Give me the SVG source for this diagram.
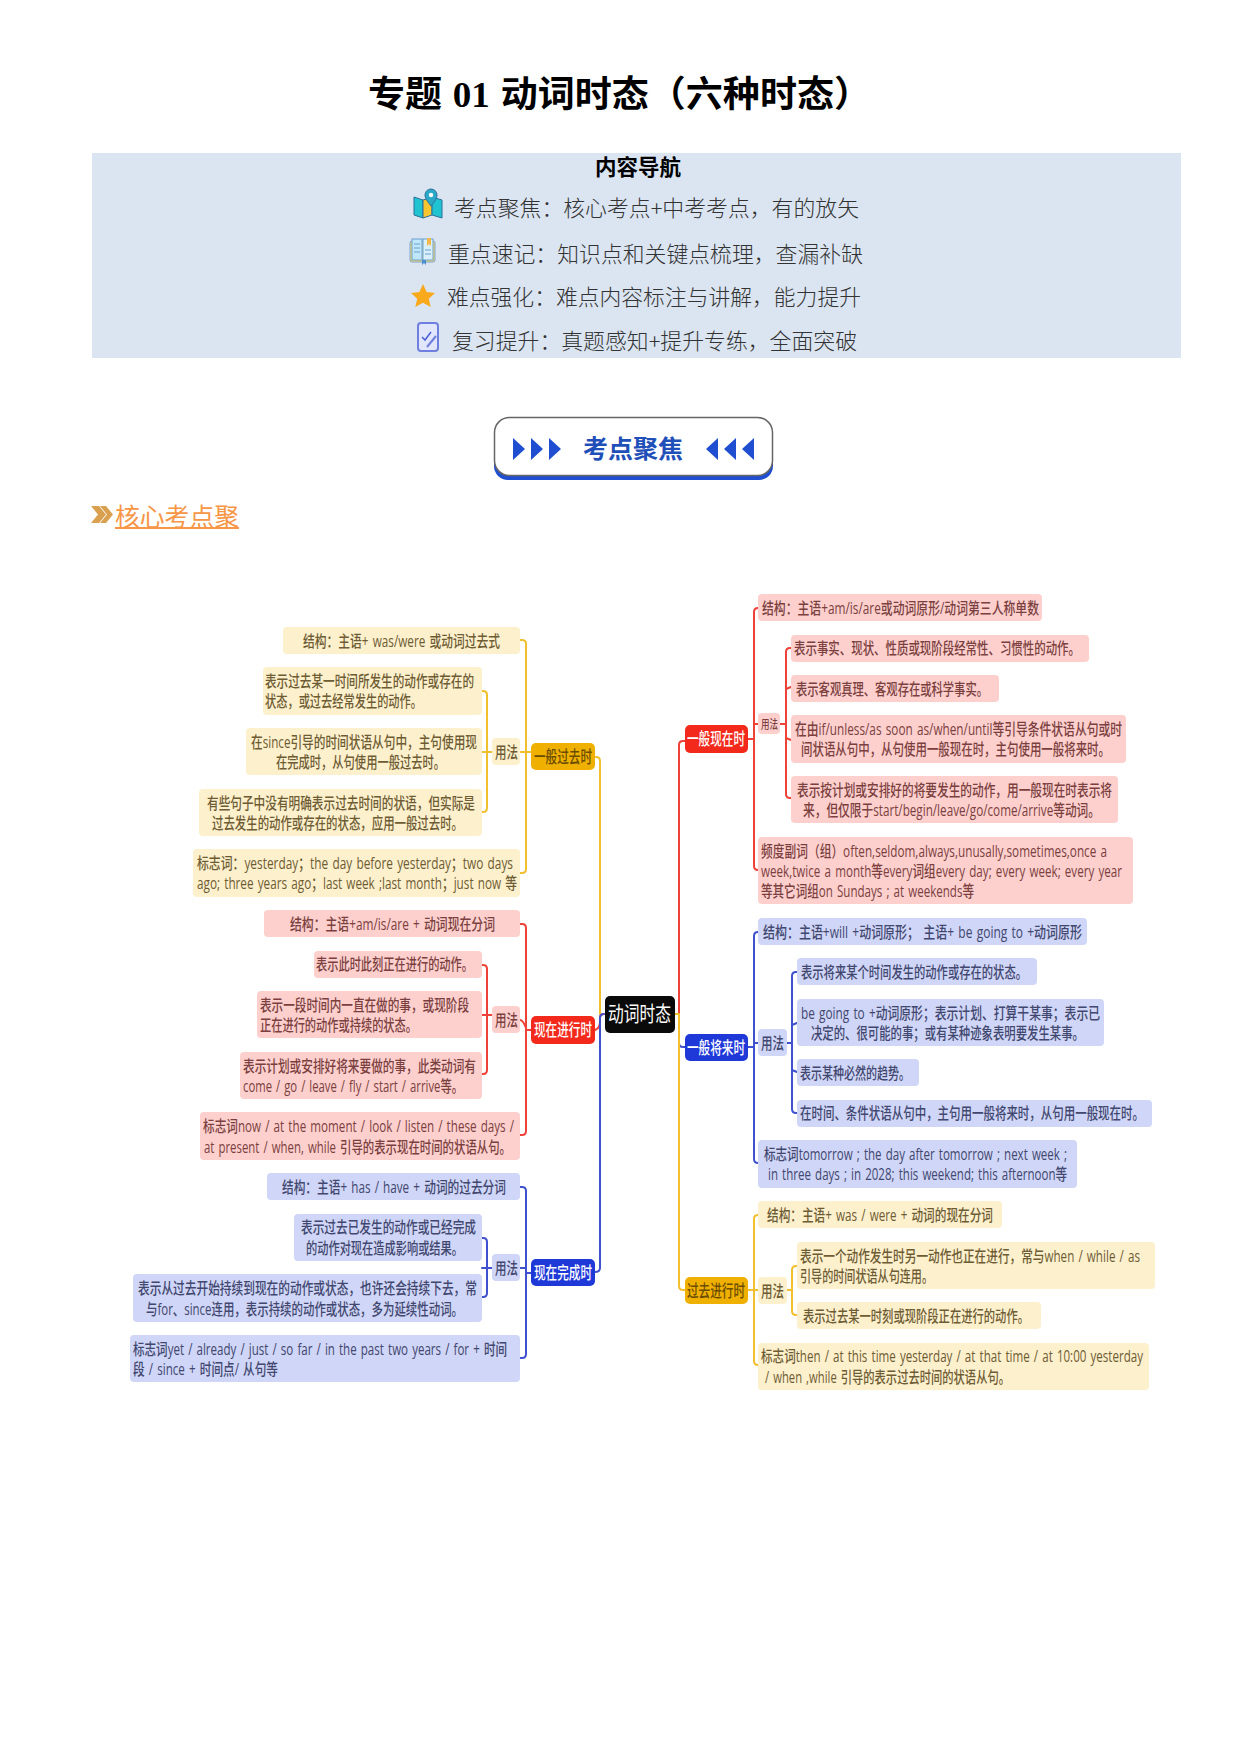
<svg xmlns="http://www.w3.org/2000/svg" width="1241" height="1754" viewBox="0 0 1241 1754">
<defs>
<style>
text{font-family:"Open Sans","Noto Sans CJK SC",sans-serif;font-size:15.5px;font-weight:500;word-spacing:1.5px}
.y rect{fill:#fdf0cd}.y text{fill:#6d5c33}
.r rect{fill:#fdd0ce}.r text{fill:#7b3f3e}
.b rect{fill:#d0d6f7}.b text{fill:#41476f}
.my rect{fill:#f0b000}.my text{fill:#6b4d00;font-size:16.5px}
.mr rect{fill:#f3291b}.mr text{fill:#fff;font-size:16.5px}
.mb rect{fill:#1f39d9}.mb text{fill:#fff;font-size:16.5px}
.c{fill:none;stroke-width:2;stroke-linecap:round}
.cy{stroke:#f2bf2e}.cr{stroke:#ee4238}.cb{stroke:#3f51cf}
.t{font-family:"Liberation Serif","Noto Sans CJK SC",serif;font-weight:700;font-size:36px;fill:#000}
.nav{font-family:"Noto Sans CJK SC",sans-serif;font-size:21.5px;font-weight:300;fill:#333}
</style>
</defs>
<rect width="1241" height="1754" fill="#fff"/>
<text class="t" x="368" y="107" textLength="503" lengthAdjust="spacingAndGlyphs">专题 01 动词时态（六种时态）</text>
<rect x="92" y="153" width="1089" height="205" fill="#dbe5f1"/>
<text class="nav" x="595" y="175" textLength="86" lengthAdjust="spacingAndGlyphs" style="fill:#000;font-weight:700">内容导航</text>
<text class="nav" x="454" y="216" textLength="405" lengthAdjust="spacingAndGlyphs">考点聚焦：核心考点+中考考点，有的放矢</text>
<text class="nav" x="448" y="262" textLength="415" lengthAdjust="spacingAndGlyphs">重点速记：知识点和关键点梳理，查漏补缺</text>
<text class="nav" x="447" y="305" textLength="414" lengthAdjust="spacingAndGlyphs">难点强化：难点内容标注与讲解，能力提升</text>
<text class="nav" x="452" y="349" textLength="405" lengthAdjust="spacingAndGlyphs">复习提升：真题感知+提升专练，全面突破</text>
<g id="icon-map">
<path d="M414 197l9 3v18l-9-3z" fill="#1fc4d0" stroke="#2b6f9a"/>
<path d="M423 200l9-3v18l-9 3z" fill="#f7c530" stroke="#2b6f9a"/>
<path d="M432 197l10 3v18l-10-3z" fill="#1fc4d0" stroke="#2b6f9a"/>
<path d="M431 206c-4-5-6-8-6-11a6 6 0 0 1 12 0c0 3-2 6-6 11z" fill="#2aa9c9" stroke="#2b6f9a"/>
<circle cx="431" cy="195" r="2.2" fill="#fff"/>
</g>
<g id="icon-book">
<rect x="410" y="241" width="25" height="21" rx="2" fill="#f6d66a" stroke="#7aa6d6"/>
<rect x="412" y="239" width="10" height="21" fill="#bfe6fa" stroke="#6aa0d0"/>
<rect x="423" y="239" width="10" height="21" fill="#d9f0fb" stroke="#6aa0d0"/>
<path d="M414 244h6M414 248h6M414 252h6M425 250h6M425 254h6" stroke="#6aa0d0" fill="none"/>
<path d="M427 238h4v8l-2-2-2 2z" fill="#f2b84a"/>
<path d="M422 260v5l2-2 2 2v-5z" fill="#4a90d0"/>
</g>
<g id="icon-star">
<path d="M423 284l3.6 8 8.400 1-6.200 5.700 1.900 8.300-7.700-4.300-7.700 4.300 1.900-8.300-6.200-5.700 8.400-1z" fill="#f8a91c"/>
</g>
<g id="icon-note">
<rect x="418" y="323" width="20" height="28" rx="3" fill="#e2e6fc" stroke="#6f7fe0" stroke-width="2"/>
<path d="M422 337l3 3 6-8" fill="none" stroke="#4a5fd8" stroke-width="1.500"/>
<path d="M427 347l9-11" fill="none" stroke="#6f7fe0" stroke-width="2"/>
</g>
<g id="banner">
<rect x="494" y="422" width="279" height="58" rx="14" fill="#1f4fd0"/>
<rect x="494.500" y="417.500" width="278" height="58" rx="15" fill="#fff" stroke="#666" stroke-width="1.500"/>
<path d="M513 438l12 11-12 11zM531 438l12 11-12 11zM549 438l12 11-12 11zM718 438l-12 11 12 11zM736 438l-12 11 12 11zM754 438l-12 11 12 11z" fill="#1f4fd0"/>
<text x="583" y="458" textLength="100" lengthAdjust="spacingAndGlyphs" style="font-family:'Noto Sans CJK SC',sans-serif;font-size:25px;font-weight:700;fill:#1f4fb8">考点聚焦</text>
</g>
<g id="section-head">
<path d="M91 506h8l7 8.500-7 8.500h-8l7-8.500zM100 506h6l7 8.500-7 8.500h-6l7-8.500z" fill="#d9a050"/>
<text x="115" y="526" textLength="124" lengthAdjust="spacingAndGlyphs" style="font-family:'Noto Sans CJK SC',sans-serif;font-size:25px;font-weight:400;fill:#f79646">核心考点聚</text>
<rect x="115" y="527" width="124" height="2" fill="#f79646"/>
</g>
<g id="connectors">
<path class="c cy" d="M520 640h2q4 0 4 4V869q0 4-4 4h-2M482 691h1q4 0 4 4V808q0 4-4 4h-1M482 752h10M520 752h11M595 757h1q4 0 4 4V1014"/>
<path class="c cr" d="M520 924h2q4 0 4 4V1131q0 4-4 4h-2M482 965h1q4 0 4 4V1070q0 4-4 4h-1M482 1015h10M520 1020q3 0 6 8M526 1030h5M595 1030q5-2 5-8v-4q0-4 4-4"/>
<path class="c cb" d="M520 1187h2q4 0 4 4V1354q0 4-4 4h-2M482 1238h1q4 0 4 4V1293q0 4-4 4h-1M482 1268h10M520 1268h6M526 1273h5M595 1272q5 0 5-4V1018q0-4 4-4"/>
<path class="c cr" d="M679 1014V745q0-4 4-4h2M758 608q-4 0-4 4V866q0 4 4 4M748 739h6M754 724h4M780 724h6M791 648h-1q-4 0-4 4V794q0 4 4 4h1M786 689l5-2M786 738l5 2"/>
<path class="c cb" d="M679 1014V1043q0 4 4 4h2M758 932q-4 0-4 4V1159q0 4 4 4M748 1047h6M754 1043h4M787 1043h5M797 972h-1q-4 0-4 4V1109q0 4 4 4h1M792 1025l5-2M792 1070l5 2"/>
<path class="c cy" d="M675 1014h4M679 1014V1286q0 4 4 4h2M758 1215q-4 0-4 4V1361q0 4 4 4M748 1290h10M787 1290h5M797 1266h-1q-4 0-4 4V1311q0 4 4 4h1"/>
</g>
<g id="center"><rect x="605" y="996" width="70" height="37" rx="5" fill="#0a0a0a"/><text x="608" y="1021" textLength="63" lengthAdjust="spacingAndGlyphs" style="fill:#fff;font-size:21px;font-weight:400">动词时态</text></g>

<g id="n-ps" class="my"><rect x="531" y="743" width="64" height="27" rx="5"/><text x="534" y="763" textLength="58" lengthAdjust="spacingAndGlyphs">一般过去时</text></g>
<g id="n-ps-s" class="y"><rect x="283" y="627" width="237" height="27" rx="4"/><text x="303" y="646.500" textLength="197" lengthAdjust="spacingAndGlyphs">结构：主语+ was/were 或动词过去式</text></g>
<g id="n-ps-u" class="y"><rect x="492" y="738" width="28" height="27" rx="4"/><text x="495" y="757.500" textLength="23" lengthAdjust="spacingAndGlyphs">用法</text></g>
<g id="n-ps-1" class="y"><rect x="263" y="667" width="219" height="48" rx="4"/><text x="265" y="686.500" textLength="209" lengthAdjust="spacingAndGlyphs">表示过去某一时间所发生的动作或存在的</text><text x="265" y="706.500" textLength="157" lengthAdjust="spacingAndGlyphs">状态，或过去经常发生的动作。</text></g>
<g id="n-ps-2" class="y"><rect x="246" y="728" width="236" height="47" rx="4"/><text x="251" y="747.500" textLength="226" lengthAdjust="spacingAndGlyphs">在since引导的时间状语从句中，主句使用现</text><text x="276" y="767.500" textLength="169" lengthAdjust="spacingAndGlyphs">在完成时，从句使用一般过去时。</text></g>
<g id="n-ps-3" class="y"><rect x="199" y="789" width="283" height="47" rx="4"/><text x="207" y="808.500" textLength="268" lengthAdjust="spacingAndGlyphs">有些句子中没有明确表示过去时间的状语，但实际是</text><text x="212" y="828.500" textLength="251" lengthAdjust="spacingAndGlyphs">过去发生的动作或存在的状态，应用一般过去时。</text></g>
<g id="n-ps-k" class="y"><rect x="193" y="849" width="327" height="48" rx="4"/><text x="197" y="868.500" textLength="316" lengthAdjust="spacingAndGlyphs">标志词：yesterday；the day before yesterday；two days</text><text x="197" y="888.500" textLength="320" lengthAdjust="spacingAndGlyphs">ago; three years ago；last week ;last month；just now 等</text></g>

<g id="n-pc" class="mr"><rect x="531" y="1016" width="64" height="28" rx="5"/><text x="534" y="1036" textLength="58" lengthAdjust="spacingAndGlyphs">现在进行时</text></g>
<g id="n-pc-s" class="r"><rect x="264" y="910" width="256" height="27" rx="4"/><text x="290" y="929.500" textLength="205" lengthAdjust="spacingAndGlyphs">结构：主语+am/is/are + 动词现在分词</text></g>
<g id="n-pc-u" class="r"><rect x="492" y="1006" width="28" height="27" rx="4"/><text x="495" y="1025.500" textLength="23" lengthAdjust="spacingAndGlyphs">用法</text></g>
<g id="n-pc-1" class="r"><rect x="314" y="951" width="168" height="27" rx="4"/><text x="316" y="969.500" textLength="157" lengthAdjust="spacingAndGlyphs">表示此时此刻正在进行的动作。</text></g>
<g id="n-pc-2" class="r"><rect x="257" y="991" width="225" height="47" rx="4"/><text x="260" y="1010.500" textLength="209" lengthAdjust="spacingAndGlyphs">表示一段时间内一直在做的事，或现阶段</text><text x="260" y="1030.500" textLength="157" lengthAdjust="spacingAndGlyphs">正在进行的动作或持续的状态。</text></g>
<g id="n-pc-3" class="r"><rect x="240" y="1052" width="242" height="47" rx="4"/><text x="243" y="1071.500" textLength="233" lengthAdjust="spacingAndGlyphs">表示计划或安排好将来要做的事，此类动词有</text><text x="243" y="1091.500" textLength="220" lengthAdjust="spacingAndGlyphs">come / go / leave / fly / start / arrive等。</text></g>
<g id="n-pc-k" class="r"><rect x="200" y="1112" width="320" height="48" rx="4"/><text x="203" y="1131.500" textLength="311" lengthAdjust="spacingAndGlyphs">标志词now / at the moment / look / listen / these days /</text><text x="204" y="1152.500" textLength="307" lengthAdjust="spacingAndGlyphs">at present / when, while 引导的表示现在时间的状语从句。</text></g>

<g id="n-pp" class="mb"><rect x="531" y="1259" width="64" height="27" rx="5"/><text x="534" y="1279" textLength="58" lengthAdjust="spacingAndGlyphs">现在完成时</text></g>
<g id="n-pp-s" class="b"><rect x="267" y="1173" width="253" height="27" rx="4"/><text x="282" y="1192.500" textLength="224" lengthAdjust="spacingAndGlyphs">结构：主语+ has / have + 动词的过去分词</text></g>
<g id="n-pp-u" class="b"><rect x="492" y="1254" width="28" height="27" rx="4"/><text x="495" y="1273.500" textLength="23" lengthAdjust="spacingAndGlyphs">用法</text></g>
<g id="n-pp-1" class="b"><rect x="294" y="1214" width="188" height="47" rx="4"/><text x="301" y="1232.500" textLength="175" lengthAdjust="spacingAndGlyphs">表示过去已发生的动作或已经完成</text><text x="306" y="1253.500" textLength="157" lengthAdjust="spacingAndGlyphs">的动作对现在造成影响或结果。</text></g>
<g id="n-pp-2" class="b"><rect x="133" y="1274" width="349" height="48" rx="4"/><text x="138" y="1293.500" textLength="339" lengthAdjust="spacingAndGlyphs">表示从过去开始持续到现在的动作或状态，也许还会持续下去，常</text><text x="146" y="1314.500" textLength="317" lengthAdjust="spacingAndGlyphs">与for、since连用，表示持续的动作或状态，多为延续性动词。</text></g>
<g id="n-pp-k" class="b"><rect x="130" y="1335" width="390" height="47" rx="4"/><text x="133" y="1354.500" textLength="374" lengthAdjust="spacingAndGlyphs">标志词yet / already / just / so far / in the past two years / for + 时间</text><text x="133" y="1374.500" textLength="145" lengthAdjust="spacingAndGlyphs">段 / since + 时间点/ 从句等</text></g>

<g id="n-sp" class="mr"><rect x="685" y="725" width="63" height="28" rx="5"/><text x="687" y="745" textLength="58" lengthAdjust="spacingAndGlyphs">一般现在时</text></g>
<g id="n-sp-s" class="r"><rect x="758" y="594" width="284" height="27" rx="4"/><text x="762" y="613.500" textLength="277" lengthAdjust="spacingAndGlyphs">结构：主语+am/is/are或动词原形/动词第三人称单数</text></g>
<g id="n-sp-u" class="r"><rect x="758" y="713" width="22" height="21" rx="4"/><text x="761" y="729" textLength="17" lengthAdjust="spacingAndGlyphs" style="font-size:12px">用法</text></g>
<g id="n-sp-1" class="r"><rect x="791" y="635" width="298" height="27" rx="4"/><text x="794" y="653.500" textLength="286" lengthAdjust="spacingAndGlyphs">表示事实、现状、性质或现阶段经常性、习惯性的动作。</text></g>
<g id="n-sp-2" class="r"><rect x="791" y="675" width="208" height="27" rx="4"/><text x="796" y="694.500" textLength="192" lengthAdjust="spacingAndGlyphs">表示客观真理、客观存在或科学事实。</text></g>
<g id="n-sp-3" class="r"><rect x="791" y="715" width="335" height="48" rx="4"/><text x="795" y="734.500" textLength="327" lengthAdjust="spacingAndGlyphs">在由if/unless/as soon as/when/until等引导条件状语从句或时</text><text x="801" y="754.500" textLength="309" lengthAdjust="spacingAndGlyphs">间状语从句中，从句使用一般现在时，主句使用一般将来时。</text></g>
<g id="n-sp-4" class="r"><rect x="791" y="776" width="327" height="47" rx="4"/><text x="797" y="795.500" textLength="315" lengthAdjust="spacingAndGlyphs">表示按计划或安排好的将要发生的动作，用一般现在时表示将</text><text x="803" y="815.500" textLength="297" lengthAdjust="spacingAndGlyphs">来，但仅限于start/begin/leave/go/come/arrive等动词。</text></g>
<g id="n-sp-k" class="r"><rect x="758" y="837" width="375" height="67" rx="4"/><text x="761" y="856.500" textLength="346" lengthAdjust="spacingAndGlyphs">频度副词（组）often,seldom,always,unusally,sometimes,once a</text><text x="761" y="876.500" textLength="361" lengthAdjust="spacingAndGlyphs">week,twice a month等every词组every day; every week; every year</text><text x="761" y="896.500" textLength="213" lengthAdjust="spacingAndGlyphs">等其它词组on Sundays ; at weekends等</text></g>

<g id="n-sf" class="mb"><rect x="685" y="1034" width="63" height="27" rx="5"/><text x="687" y="1054" textLength="58" lengthAdjust="spacingAndGlyphs">一般将来时</text></g>
<g id="n-sf-s" class="b"><rect x="758" y="918" width="329" height="27" rx="4"/><text x="763" y="937.500" textLength="319" lengthAdjust="spacingAndGlyphs">结构：主语+will +动词原形； 主语+ be going to +动词原形</text></g>
<g id="n-sf-u" class="b"><rect x="758" y="1029" width="29" height="27" rx="4"/><text x="761" y="1048.500" textLength="23" lengthAdjust="spacingAndGlyphs">用法</text></g>
<g id="n-sf-1" class="b"><rect x="797" y="958" width="240" height="27" rx="4"/><text x="801" y="977.500" textLength="226" lengthAdjust="spacingAndGlyphs">表示将来某个时间发生的动作或存在的状态。</text></g>
<g id="n-sf-2" class="b"><rect x="797" y="999" width="307" height="47" rx="4"/><text x="801" y="1018.500" textLength="299" lengthAdjust="spacingAndGlyphs">be going to +动词原形；表示计划、打算干某事；表示已</text><text x="811" y="1038.500" textLength="273" lengthAdjust="spacingAndGlyphs">决定的、很可能的事；或有某种迹象表明要发生某事。</text></g>
<g id="n-sf-3" class="b"><rect x="797" y="1059" width="122" height="27" rx="4"/><text x="800" y="1078.500" textLength="110" lengthAdjust="spacingAndGlyphs">表示某种必然的趋势。</text></g>
<g id="n-sf-4" class="b"><rect x="797" y="1100" width="355" height="27" rx="4"/><text x="800" y="1118.500" textLength="344" lengthAdjust="spacingAndGlyphs">在时间、条件状语从句中，主句用一般将来时，从句用一般现在时。</text></g>
<g id="n-sf-k" class="b"><rect x="758" y="1140" width="319" height="48" rx="4"/><text x="764" y="1159.500" textLength="303" lengthAdjust="spacingAndGlyphs">标志词tomorrow ; the day after tomorrow ; next week ;</text><text x="768" y="1179.500" textLength="299" lengthAdjust="spacingAndGlyphs">in three days ; in 2028; this weekend; this afternoon等</text></g>

<g id="n-pg" class="my"><rect x="685" y="1277" width="63" height="27" rx="5"/><text x="687" y="1297" textLength="58" lengthAdjust="spacingAndGlyphs">过去进行时</text></g>
<g id="n-pg-s" class="y"><rect x="758" y="1201" width="244" height="27" rx="4"/><text x="767" y="1220.500" textLength="226" lengthAdjust="spacingAndGlyphs">结构：主语+ was / were + 动词的现在分词</text></g>
<g id="n-pg-u" class="y"><rect x="758" y="1277" width="29" height="27" rx="4"/><text x="761" y="1296.500" textLength="23" lengthAdjust="spacingAndGlyphs">用法</text></g>
<g id="n-pg-1" class="y"><rect x="797" y="1242" width="358" height="47" rx="4"/><text x="800" y="1261.500" textLength="340" lengthAdjust="spacingAndGlyphs">表示一个动作发生时另一动作也正在进行，常与when / while / as</text><text x="800" y="1281.500" textLength="133" lengthAdjust="spacingAndGlyphs">引导的时间状语从句连用。</text></g>
<g id="n-pg-2" class="y"><rect x="797" y="1302" width="244" height="27" rx="4"/><text x="803" y="1321.500" textLength="226" lengthAdjust="spacingAndGlyphs">表示过去某一时刻或现阶段正在进行的动作。</text></g>
<g id="n-pg-k" class="y"><rect x="758" y="1343" width="391" height="47" rx="4"/><text x="761" y="1361.500" textLength="382" lengthAdjust="spacingAndGlyphs">标志词then / at this time yesterday / at that time / at 10:00 yesterday</text><text x="765" y="1382.500" textLength="245" lengthAdjust="spacingAndGlyphs">/ when ,while 引导的表示过去时间的状语从句。</text></g>
</svg>
